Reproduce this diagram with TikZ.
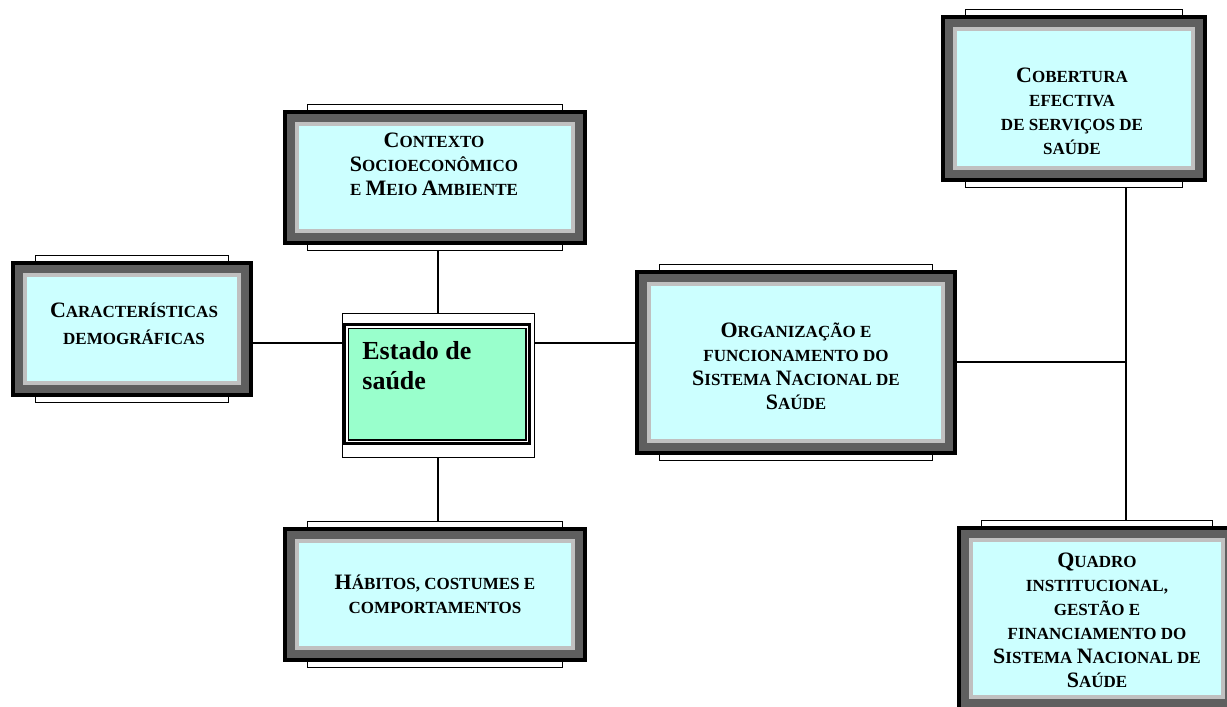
\documentclass[tikz,border=0pt]{standalone}
\usepackage{fontspec}
\setmainfont{Liberation Serif}
\usetikzlibrary{backgrounds}
\definecolor{boxcyan}{HTML}{CCFFFF}
\definecolor{boxdark}{HTML}{5F5F5F}
\definecolor{boxlight}{HTML}{C0C0C0}
\definecolor{boxmint}{HTML}{99FFCC}
\newcommand{\bc}[1]{{\fontsize{11}{12}\selectfont #1}}

\begin{document}
\begin{tikzpicture}[x=0.5pt,y=-0.5pt,
    panel/.style={fill=black,inner sep=0pt,
      path picture={
        \fill[boxdark] ([shift={(2pt,2pt)}]path picture bounding box.south west) rectangle ([shift={(-2pt,-2pt)}]path picture bounding box.north east);
        \fill[boxlight] ([shift={(6pt,6pt)}]path picture bounding box.south west) rectangle ([shift={(-6pt,-6pt)}]path picture bounding box.north east);
        \fill[boxcyan] ([shift={(8pt,8pt)}]path picture bounding box.south west) rectangle ([shift={(-8pt,-8pt)}]path picture bounding box.north east);}},
    esbox/.style={draw,fill=white,line width=0.5pt,inner sep=0pt,
      path picture={
        \draw[line width=1.5pt,fill=white] ([shift={(1.25pt,6.75pt)}]path picture bounding box.south west) rectangle ([shift={(-2.25pt,-5.75pt)}]path picture bounding box.north east);
        \draw[line width=0.75pt,fill=boxmint] ([shift={(3.125pt,8.625pt)}]path picture bounding box.south west) rectangle ([shift={(-4.125pt,-7.625pt)}]path picture bounding box.north east);}},
    back/.style={draw,fill=white,line width=0.6pt},
    boxtext/.style={font={\bfseries\fontsize{8.5}{12}\selectfont},align=center,inner sep=0pt},
    link/.style={line width=0.75pt}]
  \useasboundingbox (0,0) rectangle (1227,707);

  % boxes
  \node[panel,minimum width=121pt,minimum height=68pt] (cd) at (132,329) {};
  \node[panel,minimum width=152pt,minimum height=67.5pt] (cs) at (435,177.5) {};
  \node[panel,minimum width=152pt,minimum height=67.5pt] (hc) at (435,594.5) {};
  \node[panel,minimum width=161pt,minimum height=92.5pt] (org) at (796,362.5) {};
  \node[panel,minimum width=133pt,minimum height=83.5pt] (cob) at (1074,98.5) {};
  \node[panel,minimum width=140pt,minimum height=92.5pt] (qd) at (1097,618.5) {};
  \node[esbox,minimum width=96pt,minimum height=72pt] (es) at (438,385) {};

  % texts
  \node[boxtext,font={\bfseries\fontsize{8.5}{13.5}\selectfont}] (cdtext) at (134,323.5) {\bc{C}ARACTERÍSTICAS\\DEMOGRÁFICAS};
  \node[boxtext] (cstext) at (434,164) {\bc{C}ONTEXTO\\\bc{S}OCIOECONÔMICO\\E \bc{M}EIO \bc{A}MBIENTE};
  \node[boxtext] (hctext) at (435,594) {\bc{H}ÁBITOS, COSTUMES E\\COMPORTAMENTOS};
  \node[boxtext] (orgtext) at (796,366) {\bc{O}RGANIZAÇÃO E\\FUNCIONAMENTO DO\\\bc{S}ISTEMA \bc{N}ACIONAL DE\\\bc{S}AÚDE};
  \node[boxtext] (cobtext) at (1072,111.5) {\bc{C}OBERTURA\\EFECTIVA\\DE SERVIÇOS DE\\SAÚDE};
  \node[boxtext] (qdtext) at (1097,620) {\bc{Q}UADRO\\INSTITUCIONAL,\\GESTÃO E\\FINANCIAMENTO DO\\\bc{S}ISTEMA \bc{N}ACIONAL DE\\\bc{S}AÚDE};
  \node[anchor=north west,inner sep=0pt,align=left,font={\bfseries\fontsize{13}{15}\selectfont}] (estext) at (362,341) {Estado de\\saúde};

  \coordinate (row) at (0,343);
  \coordinate (bus) at (1126,362);

  \begin{scope}[on background layer]
    \draw[link] (cd.east |- row) -- (es.west |- row);
    \draw[link] (es.east |- row) -- (org.west |- row);
    \draw[link] (es.north) -- (es.north |- cs.south);
    \draw[link] (es.south) -- (es.south |- hc.north);
    \draw[link] (org.east |- bus) -- (bus);
    \draw[link] (bus |- cob.south) -- (bus |- qd.north);
    \foreach \b in {cd,cs,hc,org,cob,qd}
      \draw[back] ([xshift=12.5pt,yshift=2.5pt]\b.north west) rectangle ([xshift=-12.5pt,yshift=-2.5pt]\b.south east);
  \end{scope}
\end{tikzpicture}
\end{document}
